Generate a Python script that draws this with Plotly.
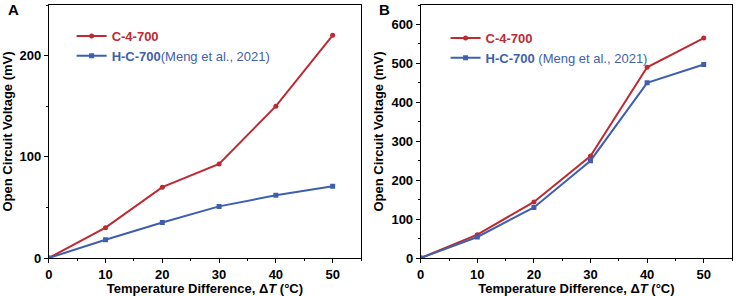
import plotly.graph_objects as go

dT = [0, 10, 20, 30, 40, 50]
a_c4700 = [0, 30, 70, 93, 150, 220]
a_hc700 = [0, 18, 35, 51, 62, 71]
b_c4700 = [0, 60, 144, 262, 490, 565]
b_hc700 = [0, 54, 130, 250, 450, 497]

RED = "#BE2A32"
BLUE = "#3F5FAE"
FONT = "Liberation Sans"

fig = go.Figure()

def add(x, y, name, color, symbol, xa, ya, leg):
    fig.add_trace(go.Scatter(
        x=x, y=y, name=name, mode="lines+markers",
        line=dict(color=color, width=2),
        marker=dict(color=color, symbol=symbol, size=5),
        xaxis=xa, yaxis=ya, legend=leg))

add(dT, a_c4700, f"<span style='color:{RED}'><b>C-4-700</b></span>", RED, "circle", "x", "y", "legend")
add(dT, a_hc700, f"<span style='color:{BLUE}'><b>H-C-700</b>(Meng et al., 2021)</span>", BLUE, "square", "x", "y", "legend")
add(dT, b_c4700, f"<span style='color:{RED}'><b>C-4-700</b></span>", RED, "circle", "x2", "y2", "legend2")
add(dT, b_hc700, f"<span style='color:{BLUE}'><b>H-C-700</b> (Meng et al., 2021)</span>", BLUE, "square", "x2", "y2", "legend2")

axis_common = dict(
    showline=True, linecolor="black", linewidth=1, mirror=True,
    ticks="outside", ticklen=4, tickwidth=1, tickcolor="black",
    showgrid=False, zeroline=False,
    tickfont=dict(family=FONT, size=13, color="black", weight="bold"),
)
xtitle = dict(text="Temperature Difference, Δ<i>T</i> (°C)",
              font=dict(family=FONT, size=13, color="black", weight="bold"), standoff=0)
ytitle = dict(text="Open Circuit Voltage (mV)",
              font=dict(family=FONT, size=13, color="black", weight="bold"), standoff=4)

xminor = dict(ticks="outside", ticklen=2, tickcolor="black", showgrid=False, dtick=5, tick0=0)
yminor = dict(ticks="outside", ticklen=2, tickcolor="black", showgrid=False, dtick=50, tick0=0)

fig.update_layout(
    width=736, height=296,
    margin=dict(l=0, r=0, t=5, b=38),
    paper_bgcolor="white", plot_bgcolor="white",
    font=dict(family=FONT, color="black"),
    xaxis=dict(domain=[45/736, 359/736], range=[0, 55], tickvals=[0, 10, 20, 30, 40, 50],
               title=xtitle, anchor="y", minor=xminor, **axis_common),
    yaxis=dict(domain=[0, 1], range=[0, 250], tickvals=[0, 100, 200],
               title=ytitle, anchor="x", minor=yminor, **axis_common),
    xaxis2=dict(domain=[419/736, 732/736], range=[0, 55], tickvals=[0, 10, 20, 30, 40, 50],
                title=xtitle, anchor="y2", minor=xminor, **axis_common),
    yaxis2=dict(domain=[0, 1], range=[0, 650], tickvals=[0, 100, 200, 300, 400, 500, 600],
                title=ytitle, anchor="x2", minor=yminor, **axis_common),
    legend=dict(x=68/736, y=0.937, xanchor="left", yanchor="top", bgcolor="rgba(0,0,0,0)",
                font=dict(family=FONT, size=13), tracegroupgap=0, itemwidth=30),
    legend2=dict(x=444/736, y=0.929, xanchor="left", yanchor="top", bgcolor="rgba(0,0,0,0)",
                 font=dict(family=FONT, size=13), tracegroupgap=0, itemwidth=30),
    showlegend=True,
)

fig.add_annotation(text="<b>A</b>", x=2/736, y=1.0, xref="paper", yref="paper",
                   xanchor="left", yanchor="middle", showarrow=False,
                   font=dict(family=FONT, size=15, color="black"), yshift=-4)
fig.add_annotation(text="<b>B</b>", x=375/736, y=1.0, xref="paper", yref="paper",
                   xanchor="left", yanchor="middle", showarrow=False,
                   font=dict(family=FONT, size=15, color="black"), yshift=-4)

fig.write_html("out.html", config={"displayModeBar": False},
               post_script="document.body.style.margin='0';")
